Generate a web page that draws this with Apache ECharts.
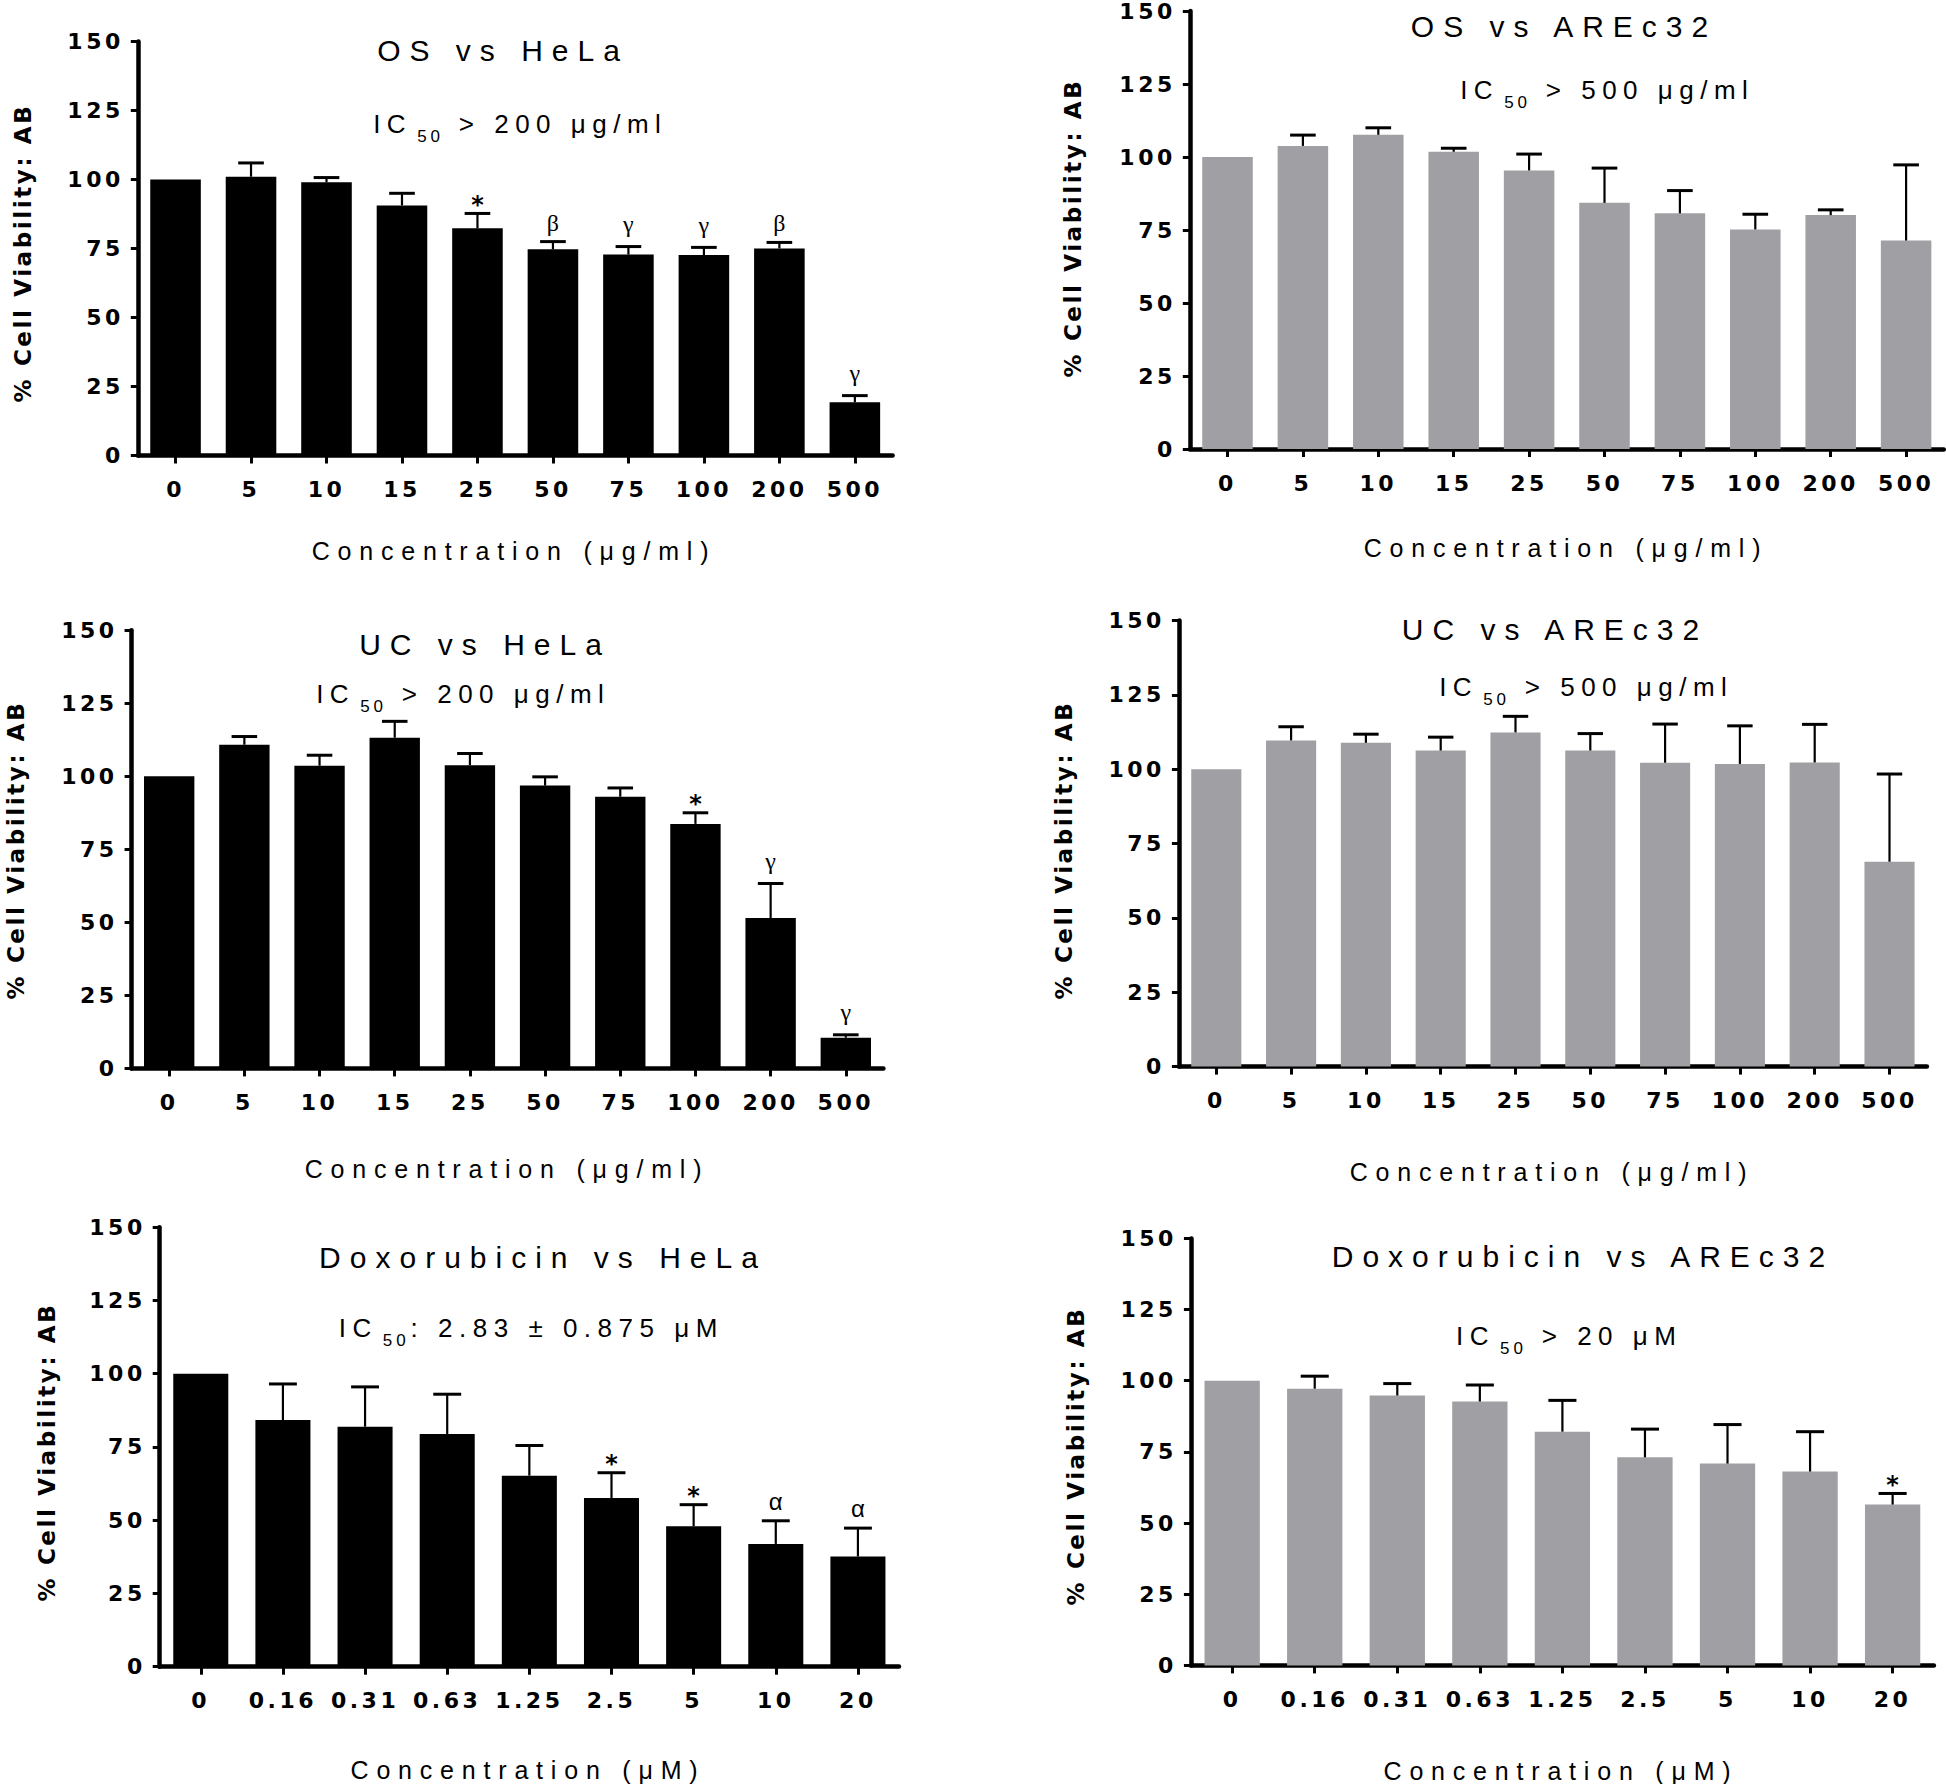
<!DOCTYPE html>
<html><head><meta charset="utf-8">
<script src="https://cdn.jsdelivr.net/npm/echarts@6/dist/echarts.min.js"></script>
<style>
html,body{margin:0;padding:0;background:#fff;}
#c{width:1946px;height:1784px;}
#c text[style*="22px"]{letter-spacing:3.5px;}
#c text[style*="23px"]{letter-spacing:2.6px;}
#c text[style*="30px"]{letter-spacing:9px;}
#c text[style*="26px"]{letter-spacing:6.5px;}
#c text[style*="17px"]{letter-spacing:4px;}
#c text[style*="25px"]{letter-spacing:7.8px;}
</style></head>
<body><div id="c"></div>
<script>
// ---------- data ----------
const concUg = ['0','5','10','15','25','50','75','100','200','500'];
const concUM = ['0','0.16','0.31','0.63','1.25','2.5','5','10','20'];
const yMin = 0, yMax = 150, yStep = 25;

const osHelaMean = [100, 101, 99, 90.6, 82.3, 74.7, 72.8, 72.6, 75, 19.3];
const osHelaSD   = [0, 5, 1.7, 4.4, 5.4, 2.8, 2.9, 2.8, 2.2, 2.4];
const osHelaSig  = ['', '', '', '', '*', 'β', 'γ', 'γ', 'β', 'γ'];

const osArecMean = [100, 103.8, 107.6, 101.8, 95.4, 84.3, 80.7, 75.2, 80.1, 71.4];
const osArecSD   = [0, 3.7, 2.4, 1.2, 5.6, 11.9, 7.8, 5.2, 1.8, 25.9];
const osArecSig  = ['', '', '', '', '', '', '', '', '', ''];

const ucHelaMean = [100, 110.8, 103.6, 113.2, 103.8, 96.8, 93, 83.7, 51.5, 10.5];
const ucHelaSD   = [0, 2.8, 3.6, 5.6, 4, 3, 3, 3.8, 11.8, 1];
const ucHelaSig  = ['', '', '', '', '', '', '', '*', 'γ', 'γ'];

const ucArecMean = [100, 109.7, 108.9, 106.3, 112.4, 106.3, 102.2, 101.8, 102.3, 68.9];
const ucArecSD   = [0, 4.6, 2.9, 4.5, 5.4, 5.7, 13, 12.8, 12.8, 29.5];
const ucArecSig  = ['', '', '', '', '', '', '', '', '', ''];

const doxHelaMean = [100, 84.2, 81.9, 79.4, 65.2, 57.6, 47.9, 41.9, 37.6];
const doxHelaSD   = [0, 12.3, 13.6, 13.6, 10.3, 8.6, 7.4, 7.9, 9.7];
const doxHelaSig  = ['', '', '', '', '', '*', '*', 'α', 'α'];

const doxArecMean = [100, 97.2, 94.8, 92.7, 82.1, 73.1, 70.9, 68.1, 56.5];
const doxArecSD   = [0, 4.4, 4.2, 5.8, 11, 9.9, 13.7, 14, 3.9];
const doxArecSig  = ['', '', '', '', '', '', '', '', '*'];

const titles = ['OS vs HeLa', 'OS vs AREc32', 'UC vs HeLa', 'UC vs AREc32', 'Doxorubicin vs HeLa', 'Doxorubicin vs AREc32'];
const icRest = ['> 200 μg/ml', '> 500 μg/ml', '> 200 μg/ml', '> 500 μg/ml', ': 2.83 ± 0.875 μM', '> 20 μM'];
const xNames = ['Concentration (μg/ml)', 'Concentration (μg/ml)', 'Concentration (μg/ml)', 'Concentration (μg/ml)', 'Concentration (μM)', 'Concentration (μM)'];
const yName = '% Cell Viability: AB';

// ---------- layout ----------
const BLACK = '#000000', GRAY = '#a0a0a4';
const panels = [
  {grid:{left:137.8, top:41.5, width:754.8, height:414}, cats:concUg, mean:osHelaMean, sd:osHelaSD, sig:osHelaSig, color:BLACK,
   title:[503,50], ic:[517,124], xn:[514,551], yn:[23,253]},
  {grid:{left:1189.8, top:11, width:754, height:438}, cats:concUg, mean:osArecMean, sd:osArecSD, sig:osArecSig, color:GRAY,
   title:[1564,26], ic:[1604,90], xn:[1566,548], yn:[1073,228]},
  {grid:{left:131.6, top:630.2, width:751.8, height:438.2}, cats:concUg, mean:ucHelaMean, sd:ucHelaSD, sig:ucHelaSig, color:BLACK,
   title:[485,644], ic:[460,694], xn:[507,1169], yn:[16,850]},
  {grid:{left:1178.9, top:620.6, width:748, height:446}, cats:concUg, mean:ucArecMean, sd:ucArecSD, sig:ucArecSig, color:GRAY,
   title:[1555,629], ic:[1583,687], xn:[1552,1172], yn:[1064,850]},
  {grid:{left:159.7, top:1227.2, width:739.3, height:439.5}, cats:concUM, mean:doxHelaMean, sd:doxHelaSD, sig:doxHelaSig, color:BLACK,
   title:[543,1257], ic:[528,1328], xn:[528,1770], yn:[47,1452]},
  {grid:{left:1190.9, top:1238.4, width:743, height:427}, cats:concUM, mean:doxArecMean, sd:doxArecSD, sig:doxArecSig, color:GRAY,
   title:[1583,1256], ic:[1566,1336], xn:[1561,1771], yn:[1076,1456]}
];

const FF = 'DejaVu Sans', FA = 'Liberation Sans';
const sigFont = {'*':'bold 24px DejaVu Sans', 'β':'24px Liberation Serif', 'γ':'24px Liberation Serif', 'α':'24px Liberation Sans'};
const sigOffset = {'*':8.5, 'β':19, 'γ':22.5, 'α':19.5};

const mctx = document.createElement('canvas').getContext('2d');
function tw(str, font, ls) { mctx.font = font; return mctx.measureText(str).width + ls * Array.from(str).length; }

const grids = [], xAxes = [], yAxes = [], series = [], graphics = [];
panels.forEach((p, k) => {
  grids.push(Object.assign({outerBoundsMode:'none', containLabel:false}, p.grid));
  xAxes.push({
    type:'category', gridIndex:k, data:p.cats,
    axisLine:{show:true, lineStyle:{color:BLACK, width:4.5}},
    axisTick:{show:true, alignWithLabel:true, length:8, lineStyle:{color:BLACK, width:3}},
    axisLabel:{interval:0, margin:23, color:BLACK, fontFamily:FF, fontWeight:'bold', fontSize:22},
    splitLine:{show:false}
  });
  yAxes.push({
    type:'value', gridIndex:k, min:yMin, max:yMax, interval:yStep,
    axisLine:{show:true, lineStyle:{color:BLACK, width:4.5}},
    axisTick:{show:true, length:7, lineStyle:{color:BLACK, width:3}},
    axisLabel:{margin:14, color:BLACK, fontFamily:FF, fontWeight:'bold', fontSize:22},
    splitLine:{show:false}
  });
  series.push({
    type:'bar', xAxisIndex:k, yAxisIndex:k, data:p.mean, barCategoryGap:'33%',
    itemStyle:{color:p.color}, silent:true, z:2
  });
  const sigArr = p.sig;
  series.push({
    type:'custom', xAxisIndex:k, yAxisIndex:k, z:3, silent:true,
    encode:{x:0, y:1},
    data:p.mean.map((m, i) => [i, m, p.sd[i]]),
    renderItem:(params, api) => {
      const i = api.value(0), m = api.value(1), sd = api.value(2);
      const base = api.coord([i, m]);
      const top = api.coord([i, m + sd]);
      const band = api.size([1, 0])[0];
      const hw = band * 0.17;
      const ch = [];
      if (sd > 0) {
        ch.push({type:'line', shape:{x1:base[0], y1:base[1], x2:top[0], y2:top[1]}, style:{stroke:BLACK, lineWidth:2.2}});
        ch.push({type:'line', shape:{x1:top[0]-hw, y1:top[1], x2:top[0]+hw, y2:top[1]}, style:{stroke:BLACK, lineWidth:3}});
      }
      const s = sigArr[params.dataIndex];
      if (s) {
        ch.push({type:'text', x:top[0], y:top[1] - sigOffset[s],
          style:{text:s, font:sigFont[s], fill:BLACK, align:'center', verticalAlign:'middle', textAlign:'center', textVerticalAlign:'middle'}});
      }
      return {type:'group', children:ch};
    }
  });

  const txt = (x, y, text, font, extra) => Object.assign({
    type:'text', x:x, y:y, silent:true,
    style:{text:text, font:font, fill:BLACK, align:'center', verticalAlign:'middle', textAlign:'center', textVerticalAlign:'middle'}
  }, extra || {});
  graphics.push(txt(p.title[0], p.title[1], titles[k], '30px ' + FA));
  graphics.push(txt(p.xn[0], p.xn[1], xNames[k], '25px ' + FA));
  graphics.push(txt(p.yn[0], p.yn[1], yName, 'bold 23px ' + FF, {rotation:Math.PI / 2}));

  // IC50 line: "IC" + subscript "50" + rest
  const fMain = '26px ' + FA, fSub = '17px ' + FA, LSM = 6.5, LSS = 4, subGap = 5;
  const rest = icRest[k];
  const w1 = tw('IC', fMain, LSM);
  const wS = tw('50', fSub, LSS) - LSS + 5;
  const wSp = rest.charAt(0) === ':' ? 0 : tw(' ', fMain, LSM);
  const wR = tw(rest, fMain, LSM) - LSM;
  const total = w1 + subGap + wS + wSp + wR;
  const x0 = p.ic[0] - total / 2, cy = p.ic[1];
  const left = (x, y, text, font) => ({type:'text', x:x, y:y, silent:true,
    style:{text:text, font:font, fill:BLACK, align:'left', verticalAlign:'middle', textAlign:'left', textVerticalAlign:'middle'}});
  graphics.push(left(x0, cy, 'IC', fMain));
  graphics.push(left(x0 + w1 + subGap, cy + 12, '50', fSub));
  graphics.push(left(x0 + w1 + subGap + wS + wSp, cy, rest, fMain));
});

const chart = echarts.init(document.getElementById('c'), null, {renderer:'svg'});
chart.setOption({
  animation:false,
  backgroundColor:'#ffffff',
  grid:grids, xAxis:xAxes, yAxis:yAxes, series:series,
  graphic:{elements:graphics}
});
</script>
</body></html>
